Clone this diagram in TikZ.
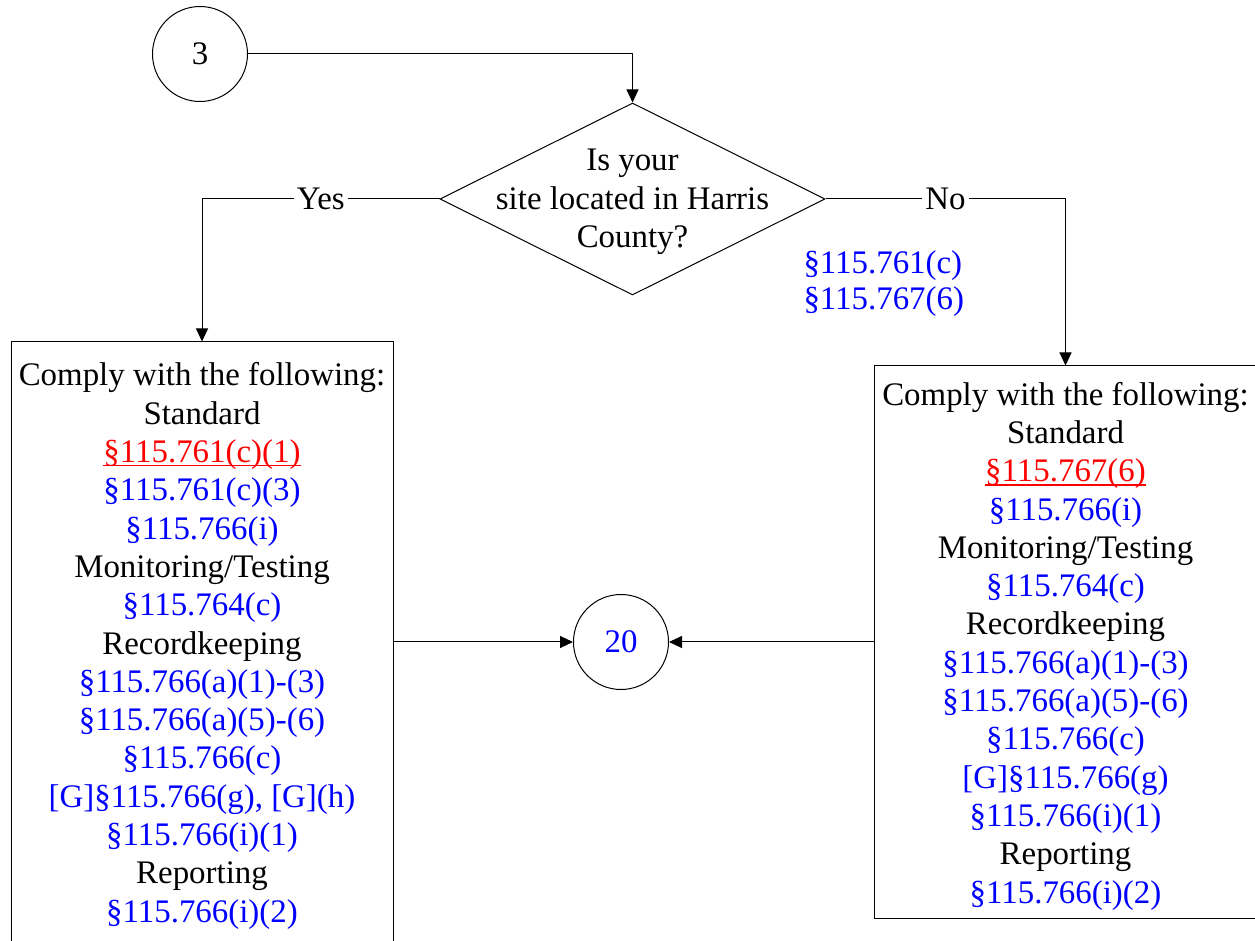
\documentclass[tikz,border=0pt]{standalone}
\usepackage{fontspec}
\setmainfont{Liberation Serif}
\usetikzlibrary{arrows.meta,shapes.geometric}
\def\bluesec#1{\textcolor{blue}{#1}}
\def\redsec#1{{\color{red}\setbox0=\hbox{#1}\rlap{\rule[-1.9pt]{\wd0}{0.7pt}}\box0}}

\begin{document}
\begin{tikzpicture}[x=0.5pt, y=-0.5pt, line width=0.5pt,
		every node/.style={font=\fontsize{16.45}{19.15}\selectfont},
		conn/.style={draw, circle, minimum size=47.5pt, inner sep=0pt},
		decision/.style={draw, diamond, minimum width=192.5pt, minimum height=96pt, inner sep=0pt},
		listbox/.style={draw, minimum width=191pt, inner sep=0pt},
		listtext/.style={align=center, yshift=-2pt},
		flow/.style={-{Triangle[length=6.5pt, width=6pt]}},
		answer/.style={fill=white, inner sep=1.5pt}]
		%%%%% START %%%%%
		
		\clip (0, 0) rectangle (1255, 941);
		
		\node[conn] (c3) at (200, 54) {3};
		\node[decision] (q) at (632.5, 199) {};
		\node[align=center, yshift=-1.5pt] (qtext) at (q) {Is your\\site located in Harris\\County?};
		
		\node[anchor=west, align=left, inner sep=0pt, font=\fontsize{16.45}{18}\selectfont] (nref) at (803, 284)
			{\bluesec{§115.761(c)}\\\bluesec{§115.767(6)}};
		
		\node[listbox, minimum height=300pt] (lbox) at (202, 642) {};
		\node[listtext] (ltext) at (lbox) {Comply with the following:\\Standard\\\redsec{§115.761(c)(1)}\\\bluesec{§115.761(c)(3)}\\\bluesec{§115.766(i)}\\Monitoring/Testing\\\bluesec{§115.764(c)}\\Recordkeeping\\\bluesec{§115.766(a)(1)-(3)}\\\bluesec{§115.766(a)(5)-(6)}\\\bluesec{§115.766(c)}\\\bluesec{[G]§115.766(g), [G](h)}\\\bluesec{§115.766(i)(1)}\\Reporting\\\bluesec{§115.766(i)(2)}};
		
		\node[listbox, minimum height=276pt] (rbox) at (1065.5, 642) {};
		\node[listtext] (rtext) at (rbox) {Comply with the following:\\Standard\\\redsec{§115.767(6)}\\\bluesec{§115.766(i)}\\Monitoring/Testing\\\bluesec{§115.764(c)}\\Recordkeeping\\\bluesec{§115.766(a)(1)-(3)}\\\bluesec{§115.766(a)(5)-(6)}\\\bluesec{§115.766(c)}\\\bluesec{[G]§115.766(g)}\\\bluesec{§115.766(i)(1)}\\Reporting\\\bluesec{§115.766(i)(2)}};
		
		\node[conn] (c20) at (621, 642) {\bluesec{20}};
		
		\draw[flow] (c3) -| (q);
		\draw[flow] (q.west) -| node[answer, pos=0.25] {Yes} (lbox.north);
		\draw[flow] (q.east) -| node[answer, pos=0.25] {No} (rbox.north);
		\draw[flow] (lbox.east |- c20) -- (c20);
		\draw[flow] (rbox.west |- c20) -- (c20);
		
		%%%%% END %%%%%
	\end{tikzpicture}
\end{document}
